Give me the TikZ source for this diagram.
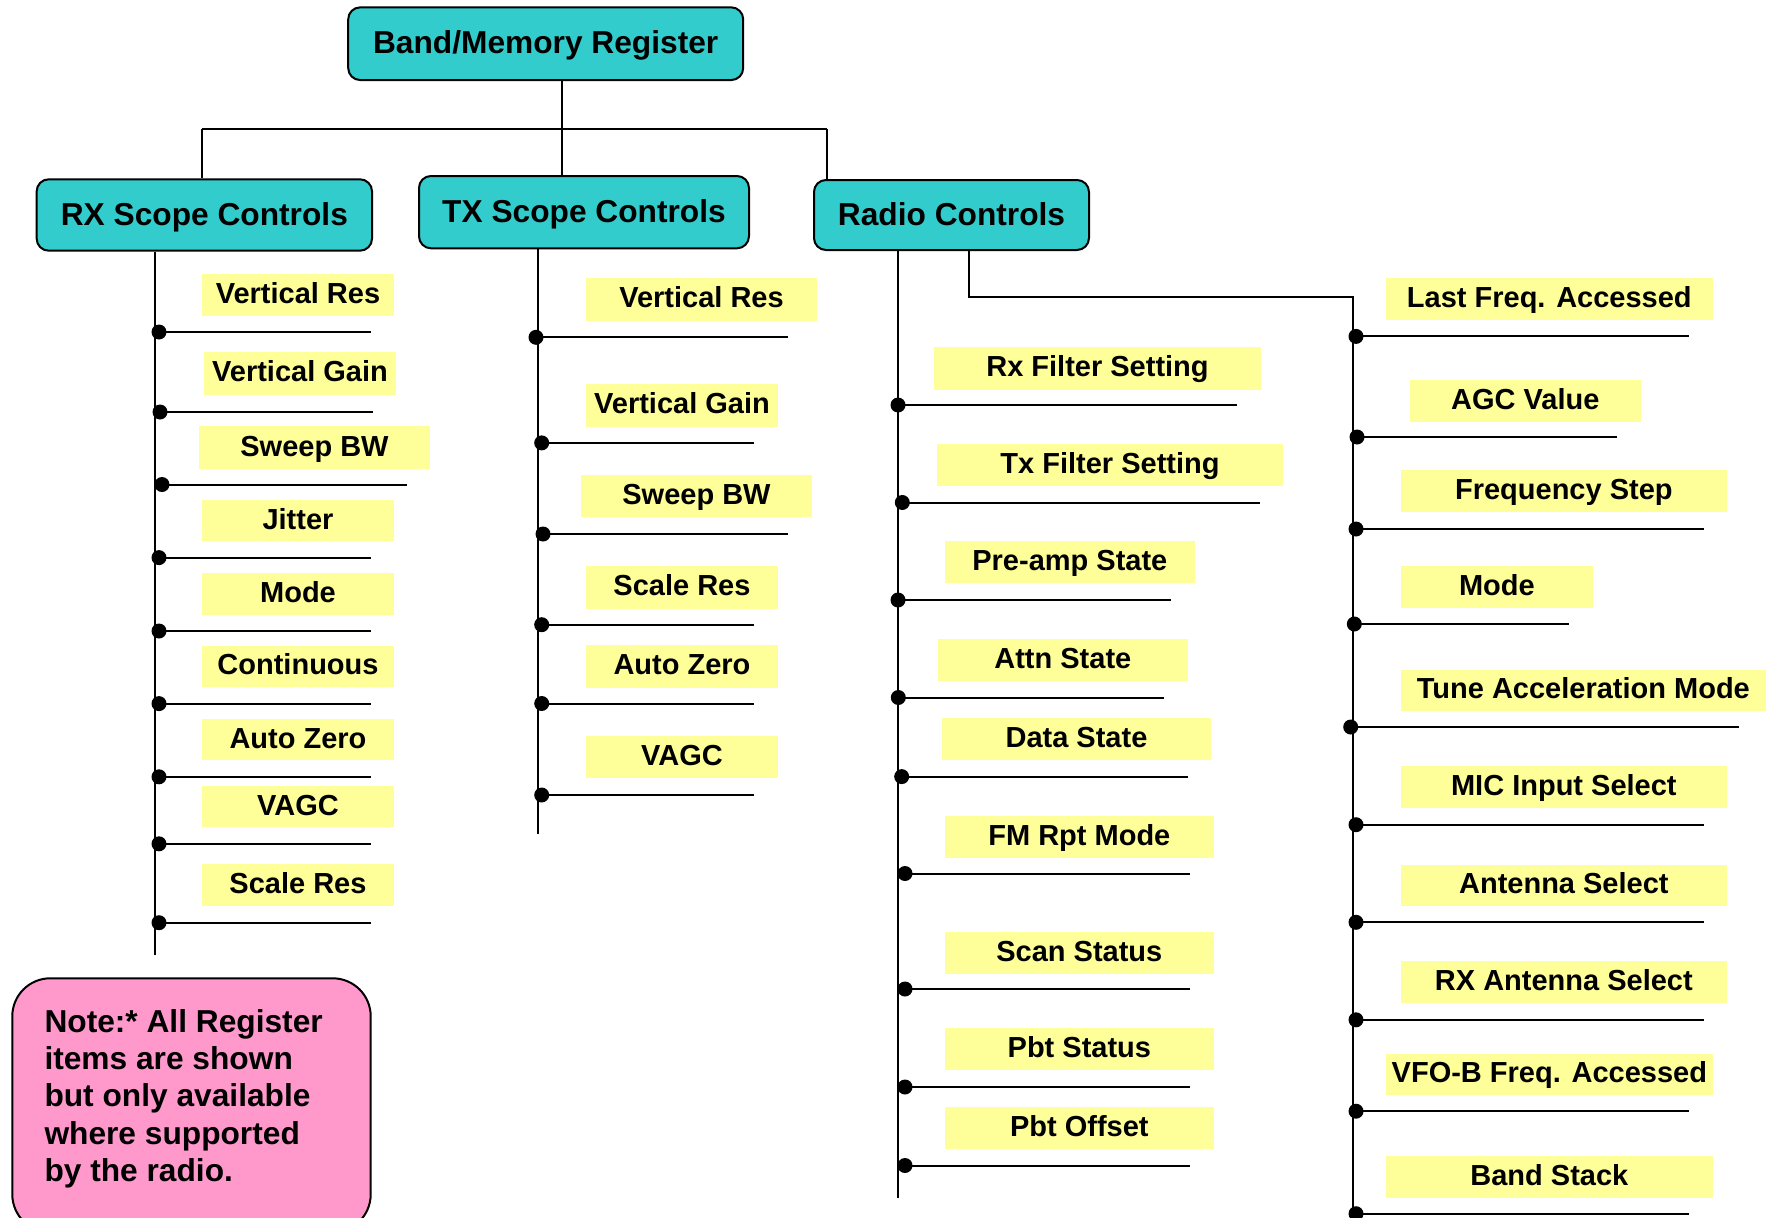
\documentclass[tikz,border=0pt]{standalone}
\usepackage{fontspec}
\setmainfont{Liberation Sans}
\definecolor{boxteal}{HTML}{33CCCC}
\definecolor{itemyel}{HTML}{FFFF99}
\definecolor{notepink}{HTML}{FF99CC}
\newcommand\regbox[6]{%
  \pgfmathsetmacro\bw{#4-#3}\pgfmathsetmacro\bh{#6-#5}%
  \pgfmathsetmacro\bx{(#3+#4)/2}\pgfmathsetmacro\by{(#5+#6)/2}%
  \node[ybox, minimum width=\bw pt, minimum height=\bh pt] (#1) at (\bx,\by) {#2};}
\newcommand\regline[4]{%
  \coordinate (#1a) at (#2,#3); \coordinate (#1z) at (#4,#3);
  \draw[wire] (#1a) -- (#1z);
  \fill (#1a) circle[radius=7.5pt];}
\begin{document}
\begin{tikzpicture}[x=1pt,y=-1pt,
  hbox/.style={draw=black, line width=2pt, fill=boxteal, rounded corners=12pt, inner sep=0pt,
    font=\bfseries\fontsize{31.7}{38}\selectfont, text height=24pt, text depth=4pt},
  ybox/.style={fill=itemyel, inner sep=0pt,
    font=\bfseries\fontsize{29}{35}\selectfont, text height=22pt, text depth=5pt},
  wire/.style={line width=2pt, draw=black},
  notebox/.style={draw=black, line width=2pt, fill=notepink, rounded corners=38pt},
  notetext/.style={inner sep=0pt, align=left, font=\bfseries\fontsize{31.7}{37.3}\selectfont}]
\useasboundingbox (0,0) rectangle (1773,1218);
\clip (0,0) rectangle (1773,1218);
\fill[white] (0,0) rectangle (1773,1218);

% header boxes
\node[hbox, minimum width=395pt, minimum height=72.7pt] (bmr) at (545.7,43.7) {Band/Memory Register};
\node[hbox, minimum width=335.3pt, minimum height=71.4pt] (rx) at (204.35,215) {RX Scope Controls};
\node[hbox, minimum width=330pt, minimum height=72.3pt] (tx) at (584,212.15) {TX Scope Controls};
\node[hbox, minimum width=275pt, minimum height=70pt] (radio) at (951.5,215) {Radio Controls};

% top connectors
\coordinate (busL) at (202,129);
\coordinate (busR) at (826.6,129);
\coordinate (busM) at (562,129);
\draw[wire] (busL) -- (busR);
\draw[wire] (busL) -- (busL |- rx.north);
\draw[wire] (busR) -- (busR |- radio.north);
\draw[wire] (bmr.south -| busM) -- (tx.north -| busM);

% spines
\coordinate (rxend) at (155,955);
\coordinate (txend) at (537.7,833.6);
\coordinate (rcend) at (898,1197.6);
\coordinate (rdrop) at (969,297);
\coordinate (rrtop) at (1352.7,297);
\coordinate (rrend) at (1352.7,1230);
\draw[wire] (rx.south -| rxend) -- (rxend);
\draw[wire] (tx.south -| txend) -- (txend);
\draw[wire] (radio.south -| rcend) -- (rcend);
\draw[wire] (radio.south -| rdrop) -- (rdrop) -- (rrtop) -- (rrend);

% RX scope items
\regbox{rx1}{Vertical Res}{202}{394}{274}{316}
\regbox{rx2}{Vertical Gain}{204}{396}{352}{394.5}
\regbox{rx3}{Sweep BW}{199}{430}{426}{469}
\regbox{rx4}{Jitter}{202}{394}{500}{541}
\regbox{rx5}{Mode}{202}{394}{572.5}{614.6}
\regbox{rx6}{Continuous}{202}{394}{645.7}{687}
\regbox{rx7}{Auto Zero}{202}{394}{719}{760}
\regbox{rx8}{VAGC}{202}{394}{786}{827}
\regbox{rx9}{Scale Res}{202}{394}{864}{906.4}
\regline{rxl1}{159}{332}{371}
\regline{rxl2}{160}{412}{373}
\regline{rxl3}{162}{484.5}{407}
\regline{rxl4}{159}{557.6}{371}
\regline{rxl5}{159}{631}{371}
\regline{rxl6}{159}{703.6}{371}
\regline{rxl7}{159}{776.8}{371}
\regline{rxl8}{159}{843.8}{371}
\regline{rxl9}{159}{922.7}{371}

% TX scope items
\regbox{tx1}{Vertical Res}{586}{817}{278}{320.8}
\regbox{tx2}{Vertical Gain}{586}{778}{384}{426.8}
\regbox{tx3}{Sweep BW}{581.3}{811.7}{475}{517}
\regbox{tx4}{Scale Res}{586}{778}{566}{608.6}
\regbox{tx5}{Auto Zero}{586}{778}{645}{687.8}
\regbox{tx6}{VAGC}{586}{778}{736}{778}
\regline{txl1}{536}{337.3}{787.7}
\regline{txl2}{541.7}{442.9}{754}
\regline{txl3}{543}{534}{787.7}
\regline{txl4}{541.7}{624.7}{754}
\regline{txl5}{541.7}{703.5}{754}
\regline{txl6}{541.7}{795}{754}

% Radio controls, first column
\regbox{rc1}{Rx Filter Setting}{934}{1261}{346.9}{389.5}
\regbox{rc2}{Tx Filter Setting}{937}{1283}{443.8}{485.8}
\regbox{rc3}{Pre-amp State}{945}{1194.7}{540.8}{583.4}
\regbox{rc4}{Attn State}{938}{1187.7}{638.9}{680.9}
\regbox{rc5}{Data State}{942}{1211}{718}{760}
\regbox{rc6}{FM Rpt Mode}{945}{1213.7}{815.5}{857.5}
\regbox{rc7}{Scan Status}{945}{1213.7}{931.5}{973.5}
\regbox{rc8}{Pbt Status}{945}{1213.7}{1027.8}{1069.8}
\regbox{rc9}{Pbt Offset}{945}{1213.7}{1106.9}{1148.8}
\regline{rcl1}{898}{405}{1237.3}
\regline{rcl2}{902.3}{502.5}{1259.7}
\regline{rcl3}{898}{600}{1171.3}
\regline{rcl4}{898.3}{697.5}{1163.7}
\regline{rcl5}{901.7}{776.6}{1188}
\regline{rcl6}{905}{873.5}{1190.3}
\regline{rcl7}{905}{989}{1190.3}
\regline{rcl8}{905}{1087}{1190.3}
\regline{rcl9}{905}{1165.5}{1190.3}

% Radio controls, second column
\regbox{rr1}{Last Freq. Accessed}{1386}{1712.7}{277.8}{320.4}
\regbox{rr2}{AGC Value}{1410}{1640.7}{379.6}{421.6}
\regbox{rr3}{Frequency Step}{1401}{1726.7}{469.8}{511.8}
\regbox{rr4}{Mode}{1401}{1592.7}{566}{608}
\regbox{rr5}{Tune Acceleration Mode}{1401}{1765.7}{669.8}{710.5}
\regbox{rr6}{MIC Input Select}{1401}{1726.7}{766}{808}
\regbox{rr7}{Antenna Select}{1401}{1726.7}{864.9}{905.6}
\regbox{rr8}{RX Antenna Select}{1401}{1726.7}{961}{1003}
\regbox{rr9}{VFO-B Freq. Accessed}{1386}{1712.7}{1053.8}{1094.5}
\regbox{rr10}{Band Stack}{1386}{1712.7}{1156}{1198}
\regline{rrl1}{1356}{336.4}{1689.3}
\regline{rrl2}{1357}{437}{1617}
\regline{rrl3}{1356}{529}{1703.7}
\regline{rrl4}{1354.3}{624}{1569.3}
\regline{rrl5}{1350.7}{727}{1739.3}
\regline{rrl6}{1356}{824.7}{1703.7}
\regline{rrl7}{1356}{922.3}{1703.7}
\regline{rrl8}{1356}{1019.8}{1703.7}
\regline{rrl9}{1356}{1111.2}{1689.3}
\regline{rrl10}{1356}{1213.7}{1689.3}

% note
\node[notebox, minimum width=358.4pt, minimum height=254pt] (note) at (191.5,1105.3) {};
\node[notetext, anchor=north west] (notetxt) at (44.3,1009) {Note:* All Register\\items are shown\\but only available\\where supported\\by the radio.};
\end{tikzpicture}
\end{document}
